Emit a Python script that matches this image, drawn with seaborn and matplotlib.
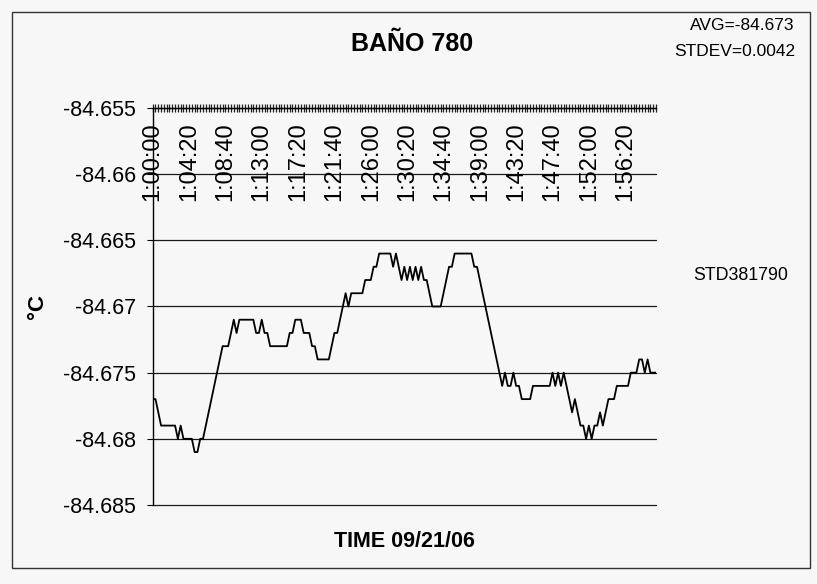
import matplotlib.pyplot as plt
import pandas as pd
import seaborn as sns
from matplotlib.patches import Rectangle

sns.set_style("white")
plt.rcParams["font.family"] = ["Liberation Sans", "DejaVu Sans"]
plt.rcParams["text.color"] = "black"
plt.rcParams["axes.labelcolor"] = "black"

# bath temperature, one reading every 20 s from 1:00:00
temps = [
    -84.677, -84.677, -84.678, -84.679, -84.679, -84.679, -84.679, -84.679, -84.679, -84.680,
    -84.679, -84.680, -84.680, -84.680, -84.680, -84.681, -84.681, -84.680, -84.680, -84.679,
    -84.678, -84.677, -84.676, -84.675, -84.674, -84.673, -84.673, -84.673, -84.672, -84.671,
    -84.672, -84.671, -84.671, -84.671, -84.671, -84.671, -84.671, -84.672, -84.672, -84.671,
    -84.672, -84.672, -84.673, -84.673, -84.673, -84.673, -84.673, -84.673, -84.673, -84.672,
    -84.672, -84.671, -84.671, -84.671, -84.672, -84.672, -84.672, -84.673, -84.673, -84.674,
    -84.674, -84.674, -84.674, -84.674, -84.673, -84.672, -84.672, -84.671, -84.670, -84.669,
    -84.670, -84.669, -84.669, -84.669, -84.669, -84.669, -84.668, -84.668, -84.668, -84.667,
    -84.667, -84.666, -84.666, -84.666, -84.666, -84.666, -84.667, -84.666, -84.667, -84.668,
    -84.667, -84.668, -84.667, -84.668, -84.667, -84.668, -84.667, -84.668, -84.668, -84.669,
    -84.670, -84.670, -84.670, -84.670, -84.669, -84.668, -84.667, -84.667, -84.666, -84.666,
    -84.666, -84.666, -84.666, -84.666, -84.666, -84.667, -84.667, -84.668, -84.669, -84.670,
    -84.671, -84.672, -84.673, -84.674, -84.675, -84.676, -84.675, -84.676, -84.676, -84.675,
    -84.676, -84.676, -84.677, -84.677, -84.677, -84.677, -84.676, -84.676, -84.676, -84.676,
    -84.676, -84.676, -84.676, -84.675, -84.676, -84.675, -84.676, -84.675, -84.676, -84.677,
    -84.678, -84.677, -84.678, -84.679, -84.679, -84.680, -84.679, -84.680, -84.679, -84.679,
    -84.678, -84.679, -84.678, -84.677, -84.677, -84.677, -84.676, -84.676, -84.676, -84.676,
    -84.676, -84.675, -84.675, -84.675, -84.674, -84.674, -84.675, -84.674, -84.675, -84.675,
    -84.675,
]
times = pd.date_range("2006-09-21 01:00:00", periods=len(temps), freq="20s")

time_labels = [
    "1:00:00", "1:04:20", "1:08:40", "1:13:00", "1:17:20", "1:21:40", "1:26:00",
    "1:30:20", "1:34:40", "1:39:00", "1:43:20", "1:47:40", "1:52:00", "1:56:20",
]
label_step = 13
y_ticks = [-84.685, -84.68, -84.675, -84.67, -84.665, -84.66, -84.655]
y_labels = ["-84.685", "-84.68", "-84.675", "-84.67", "-84.665", "-84.66", "-84.655"]
series_name = "STD381790"
avg_text = "AVG=-84.673"
std_text = "STDEV=0.0042"

df = pd.DataFrame({"sample": range(len(temps)), "time": times, "temp": temps})

bg = "#f7f7f7"
fig = plt.figure(figsize=(8.17, 5.84), dpi=100, facecolor=bg)
ax = fig.add_axes([0.1869, 0.1353, 0.6160, 0.6798])
ax.set_facecolor(bg)

sns.lineplot(data=df, x="sample", y="temp", color="black", linewidth=1.3,
             label=series_name, ax=ax)

ax.set_xlim(0, len(temps) - 1)
ax.set_ylim(y_ticks[0], y_ticks[-1])

# y axis
ax.set_yticks(y_ticks, y_labels)
ax.yaxis.grid(True, color="#1a1a1a", linewidth=0.9)
for gl in ax.get_ygridlines():
    gl.set_clip_on(False)
ax.tick_params(axis="y", which="major", left=True, direction="out", length=4,
               width=0.8, pad=8, labelsize=15.5, colors="black")

# category axis sits at the top, one tick per reading
tick_pos = list(range(0, len(temps), label_step))[:len(time_labels)]
ax.set_xticks(tick_pos)
ax.set_xticks(range(len(temps)), minor=True)
ax.tick_params(axis="x", which="both", top=True, bottom=False, labeltop=False,
               labelbottom=False, direction="inout", length=6, width=0.9, color="#222222")
for pos, lab in zip(tick_pos, time_labels):
    ax.text(pos, 0.963, lab, transform=ax.get_xaxis_transform(), rotation=90,
            ha="center", va="top", fontsize=17)

for side in ["right", "bottom"]:
    ax.spines[side].set_visible(False)
for side in ["top", "left"]:
    ax.spines[side].set_color("black")
    ax.spines[side].set_linewidth(1.0)

ax.set_xlabel("TIME 09/21/06", fontsize=15.5, fontweight="bold")
ax.xaxis.set_label_coords(0.5, -0.093)
ax.xaxis.label.set_va("center")
ax.set_ylabel("°C", fontsize=16, fontweight="bold")
ax.yaxis.set_label_coords(-0.208, 0.5)

leg = ax.legend(loc="center", bbox_to_anchor=(1.169, 0.579), frameon=False,
                handlelength=0, handletextpad=0, fontsize=12.8)
for h in leg.legend_handles:
    h.set_visible(False)

fig.text(0.504, 0.924, "BAÑO 780", ha="center", va="center",
         fontsize=18, fontweight="bold")
fig.text(0.973, 0.957, avg_text, ha="right", va="center", fontsize=12.5)
fig.text(0.973, 0.911, std_text, ha="right", va="center", fontsize=12.5)

fig.add_artist(Rectangle((0.0147, 0.0274), 0.9767, 0.952, transform=fig.transFigure,
                         fill=False, edgecolor="#333333", linewidth=1.0))

fig.savefig("out.png", dpi=100, facecolor=bg)
plt.close(fig)
